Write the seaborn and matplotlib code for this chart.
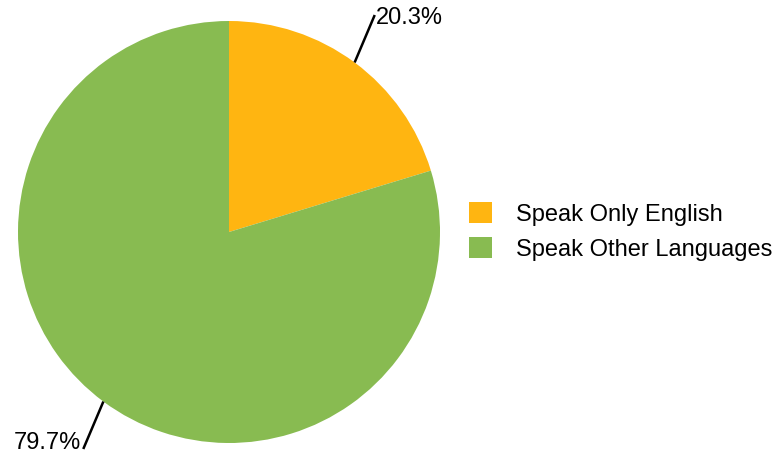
import numpy as np
import matplotlib
matplotlib.use("Agg")
import matplotlib.pyplot as plt
import seaborn as sns
from matplotlib.patches import Patch

# Data
categories = ['Speak Only English', 'Speak Other Languages']
shares = [20.3, 79.7]
colors = ['#FFB511', '#88BB51']

sns.set_theme(style="white")
plt.rcParams['font.family'] = ['Liberation Sans', 'DejaVu Sans']
plt.rcParams['text.color'] = 'black'

fig = plt.figure(figsize=(7.78, 4.57), dpi=100)
# pie centre at (229, 232) px, radius 211 px
ax = fig.add_axes([18 / 778, 14 / 457, 422 / 778, 422 / 457])

wedges, _ = ax.pie(shares, colors=colors, startangle=90, counterclock=False,
                   wedgeprops=dict(linewidth=0))
ax.set_xlim(-1, 1)
ax.set_ylim(-1, 1)
ax.set_aspect('equal')
ax.axis('off')

# percentage labels with leader lines
total = sum(shares)
cum = 0
for val in shares:
    mid = np.deg2rad(90 - (cum + val / 2) / total * 360)
    cum += val
    x0, y0 = np.cos(mid), np.sin(mid)
    x1, y1 = x0 * 1.16, y0 * 1.28
    ax.plot([x0, x1], [y0, y1], color='black', lw=1.8, clip_on=False,
            solid_capstyle='butt')
    if x0 > 0:
        ax.text(x1 + 0.006, y1 - 0.012, f'{val:.1f}%', ha='left', va='center',
                fontsize=17, color='black', clip_on=False)
    else:
        ax.text(x1 - 0.01, y1, f'{val:.1f}%', ha='right', va='baseline',
                fontsize=17, color='black', clip_on=False)

handles = [Patch(facecolor=c, edgecolor='none') for c in colors]
fig.legend(handles, categories, loc='center left',
           bbox_to_anchor=(469 / 778, 1 - 231.5 / 457),
           frameon=False, fontsize=17, handlelength=0.98, handleheight=0.98,
           handletextpad=1.0, labelspacing=0.5, borderpad=0, borderaxespad=0,
           labelcolor='black')

fig.savefig('out.png', dpi=100)
